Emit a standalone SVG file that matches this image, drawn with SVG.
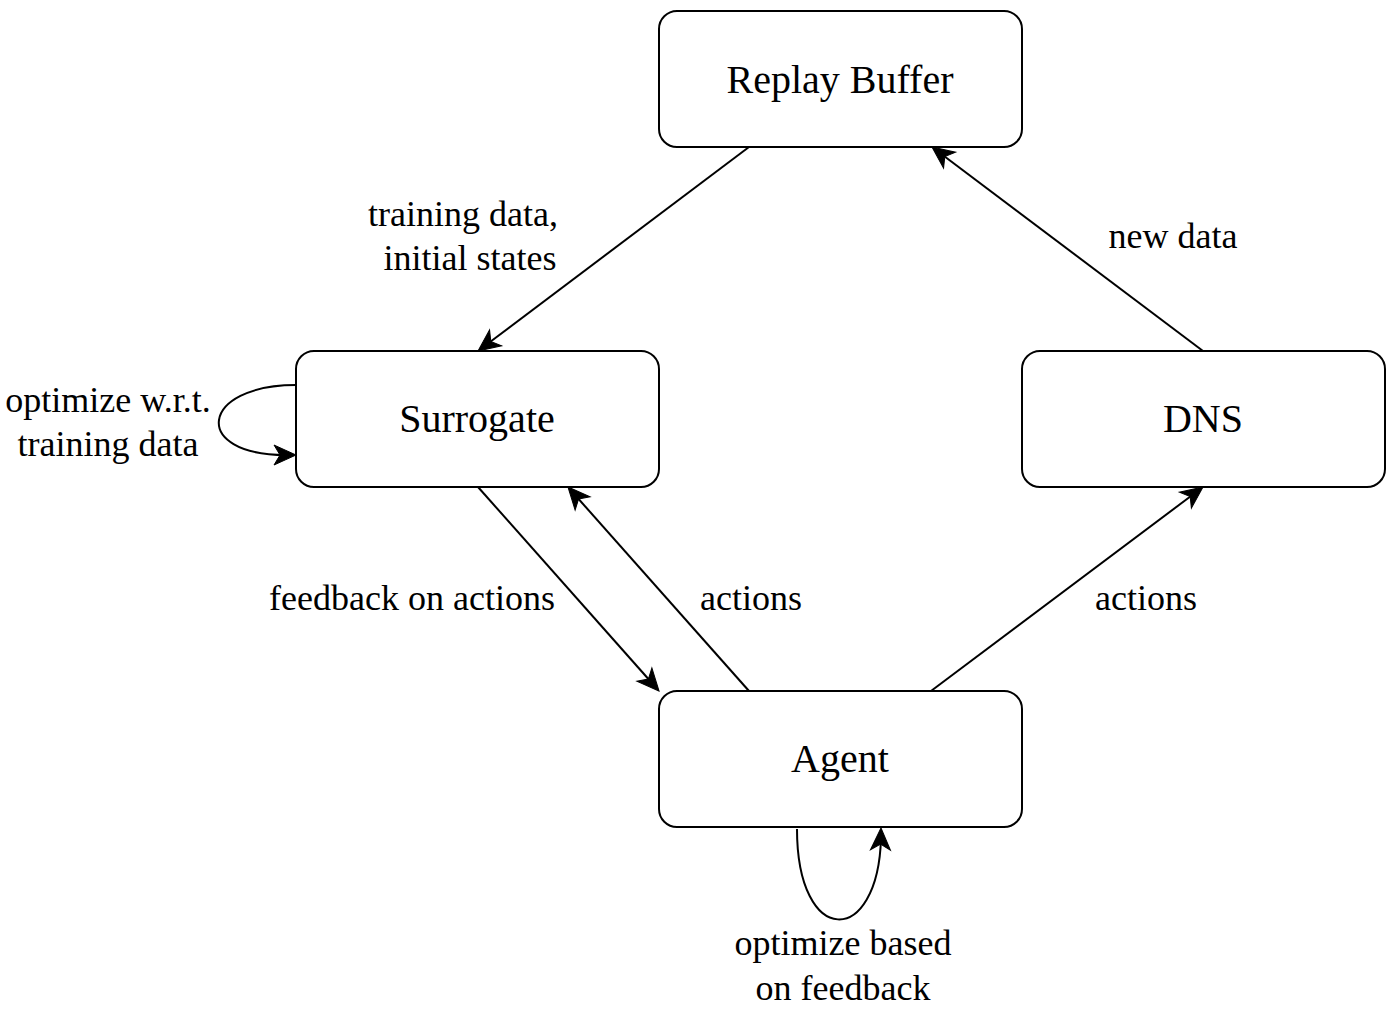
<svg xmlns="http://www.w3.org/2000/svg" width="1394" height="1010" viewBox="0 0 1394 1010">
<style>
.node{fill:#fff;stroke:#000;stroke-width:2}
.nt{font-family:"Liberation Serif",serif;font-size:40px;text-anchor:middle;fill:#000}
.lt{font-family:"Liberation Serif",serif;font-size:36px;text-anchor:middle;fill:#000}
.edge{fill:none;stroke:#000;stroke-width:2}
.head{fill:#000;stroke:#000;stroke-width:1;stroke-linejoin:miter}
</style>
<defs>
<path id="ah" d="M0,0 L-22,-10 L-16,0 L-22,10 z"/>
</defs>
<rect width="1394" height="1010" fill="#fff"/>
<g id="connectors">
<path class="edge" d="M749,147 L486,345"/>
<use href="#ah" class="head" transform="translate(478,351) rotate(143.03)"/>
<path class="edge" d="M1203,351 L940,153"/>
<use href="#ah" class="head" transform="translate(932,147) rotate(-143.03)"/>
<path class="edge" d="M478,487 L652.4,683.5"/>
<use href="#ah" class="head" transform="translate(659,691) rotate(48.42)"/>
<path class="edge" d="M749,691 L574.6,494.5"/>
<use href="#ah" class="head" transform="translate(568,487) rotate(-131.58)"/>
<path class="edge" d="M931,691 L1195,493"/>
<use href="#ah" class="head" transform="translate(1203,487) rotate(-36.87)"/>
<path class="edge" d="M296,385 C200,385 190,455 286,455"/>
<use href="#ah" class="head" transform="translate(296,455) rotate(0)"/>
<path class="edge" d="M797,829 C797,948 878,948 881,838"/>
<use href="#ah" class="head" transform="translate(881,828) rotate(-88.57)"/>
<text class="lt" x="463" y="226">training data,</text>
<text class="lt" x="470" y="270">initial states</text>
<text class="lt" x="1173" y="248">new data</text>
<text class="lt" x="412" y="610">feedback on actions</text>
<text class="lt" x="751" y="610">actions</text>
<text class="lt" x="1146" y="610">actions</text>
<text class="lt" x="108" y="412">optimize w.r.t.</text>
<text class="lt" x="108" y="456">training data</text>
<text class="lt" x="843" y="955">optimize based</text>
<text class="lt" x="843" y="1000">on feedback</text>
</g>
<g id="replay-buffer">
<rect class="node" x="659" y="11" width="363" height="136" rx="18"/>
<text class="nt" x="840" y="93">Replay Buffer</text>
</g>
<g id="surrogate">
<rect class="node" x="296" y="351" width="363" height="136" rx="18"/>
<text class="nt" x="477" y="432">Surrogate</text>
</g>
<g id="dns">
<rect class="node" x="1022" y="351" width="363" height="136" rx="18"/>
<text class="nt" x="1203" y="432">DNS</text>
</g>
<g id="agent">
<rect class="node" x="659" y="691" width="363" height="136" rx="18"/>
<text class="nt" x="840" y="772">Agent</text>
</g>
</svg>
